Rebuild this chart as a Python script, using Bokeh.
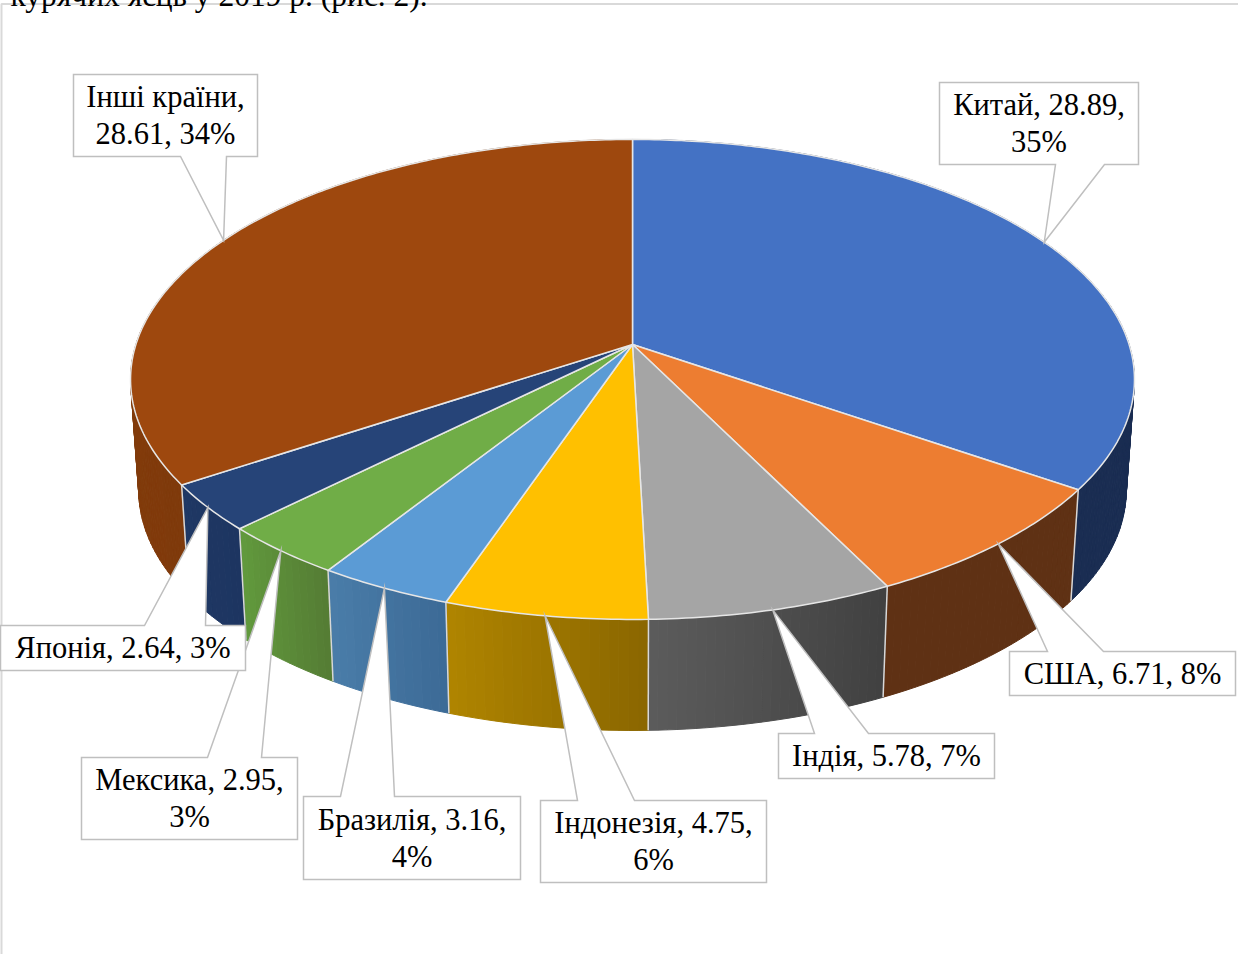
import math
from bokeh.plotting import figure
from bokeh.embed import file_html
from bokeh.resources import INLINE
from bokeh.core.properties import value

countries = ["Китай", "США", "Індія", "Індонезія", "Бразилія", "Мексика", "Японія", "Інші країни"]
values = [28.89, 6.71, 5.78, 4.75, 3.16, 2.95, 2.64, 28.61]
percents = [35, 8, 7, 6, 4, 3, 3, 34]
top_colors = ["#4472C4", "#ED7D31", "#A5A5A5", "#FFC000", "#5B9BD5", "#70AD47", "#264478", "#9E480E"]
wall_from = ["#1a2d52", "#5f3114", "#404040", "#8a6600", "#3c6a96", "#547c34", "#1d3561", "#7f3a0b"]
wall_to = ["#1a2d52", "#5f3114", "#5c5c5c", "#b08500", "#4a7da9", "#629a3d", "#1f3864", "#8a3f0c"]
label_lines = [
    ["Китай, 28.89,", "35%"], ["США, 6.71, 8%"], ["Індія, 5.78, 7%"], ["Індонезія, 4.75,", "6%"],
    ["Бразилія, 3.16,", "4%"], ["Мексика, 2.95,", "3%"], ["Японія, 2.64, 3%"], ["Інші країни,", "28.61, 34%"],
]
caption = "курячих яєць у 2019 р. (рис. 2)."

# layout (pixels): callout boxes x0, x1, y0, y1 and wedge base x-positions
boxes = [(947, 1146, 90, 172), (1017, 1243, 659, 703), (786, 1002, 741, 786), (548, 774, 808, 890),
         (311, 528, 804, 887), (89, 305, 765, 847), (8, 253, 633, 678), (81, 265, 82, 164)]
bases = [(1063, 1112), (1055, 1111), (822, 876), (585, 642), (348, 402), (215, 269), (152, 213), (188, 234)]

W, H = 1246, 962
CX, CY = 640, 352
K, A, B = 0.1457, 496.6, 234.9
SHRINK, DEPTH = 0.9836, 111
FONT = "Liberation Serif"
FS = "30.5px"


def rim(theta):
    u, v = math.sin(theta), math.cos(theta)
    d = 1 + K * v
    return CX + A * u / d, CY - B * v / d


def bottom(pt):
    return CX + SHRINK * (pt[0] - CX), pt[1] + DEPTH


def mix(c1, c2, t):
    a = [int(c1[i:i + 2], 16) for i in (1, 3, 5)]
    b = [int(c2[i:i + 2], 16) for i in (1, 3, 5)]
    return "#%02x%02x%02x" % tuple(round(x + (y - x) * t) for x, y in zip(a, b))


p = figure(width=W, height=H, x_range=(0, W), y_range=(H, 0), output_backend="svg", toolbar_location=None,
           min_border=0, outline_line_color=None, margin=(-8, 0, 0, -8))
p.axis.visible = False
p.grid.visible = False
p.xaxis.visible = False
p.yaxis.visible = False

# frame and clipped caption line
p.line([9, 9, W], [H, 11.5, 11.5], line_color="#d9d9d9", line_width=2)
p.text([18], [3], text=[caption], text_font=value(FONT), text_font_size="31.5px", text_color="#000000",
       text_align="left", text_baseline="alphabetic")

total = sum(values)
starts, s = [], 0.0
for v in values:
    starts.append(s)
    s += v / total * 2 * math.pi
ends = starts[1:] + [2 * math.pi]

# side walls, strip by strip so the shading runs across each slice
for a0, a1, c0, c1 in zip(starts, ends, wall_from, wall_to):
    n = max(8, int((a1 - a0) * 60))
    xs, ys, cols = [], [], []
    for i in range(n):
        t0, t1 = a0 + (a1 - a0) * i / n, a0 + (a1 - a0) * (i + 1) / n
        p0, p1 = rim(t0), rim(t1)
        q0, q1 = bottom(p0), bottom(p1)
        xs.append([p0[0], p1[0], q1[0], q0[0]])
        ys.append([p0[1], p1[1], q1[1], q0[1]])
        cols.append(mix(c0, c1, (i + 0.5) / n))
    p.patches(xs, ys, fill_color=cols, line_color=cols, line_width=1)
# lighter seams between walls
for a0 in starts:
    top = rim(a0)
    if math.cos(a0) < 0.1:
        q = bottom(top)
        p.line([top[0], q[0]], [top[1], q[1]], line_color="#d8d8d8", line_width=1.5)

# top faces
for a0, a1, col in zip(starts, ends, top_colors):
    n = max(8, int((a1 - a0) * 80))
    pts = [rim(a0 + (a1 - a0) * i / n) for i in range(n + 1)]
    xs = [CX] + [q[0] for q in pts]
    ys = [CY] + [q[1] for q in pts]
    p.patch(xs, ys, fill_color=col, line_color="#e6e6e6", line_width=1.5, line_join="round")

# callouts: a box with its wedge, running to the middle of the slice's rim
for a0, a1, box, base, lines in zip(starts, ends, boxes, bases, label_lines):
    tip = rim((a0 + a1) / 2)
    x0, x1, y0, y1 = box
    bx0, bx1 = base
    if tip[1] > y1:
        xs = [x0, x1, x1, bx1, tip[0], bx0, x0]
        ys = [y0, y0, y1, y1, tip[1], y1, y1]
    else:
        xs = [x0, bx0, tip[0], bx1, x1, x1, x0]
        ys = [y0, y0, tip[1], y0, y0, y1, y1]
    p.patch(xs, ys, fill_color="#ffffff", line_color="#bfbfbf", line_width=1.5, line_join="miter")
    cx = (x0 + x1) / 2
    cy = (y0 + y1) / 2
    pitch = 37
    for j, line in enumerate(lines):
        yy = cy + (j - (len(lines) - 1) / 2) * pitch
        p.text([cx], [yy], text=[line], text_font=value(FONT), text_font_size=FS, text_color="#000000",
               text_align="center", text_baseline="middle")

open("out.html", "w").write(file_html(p, INLINE))
